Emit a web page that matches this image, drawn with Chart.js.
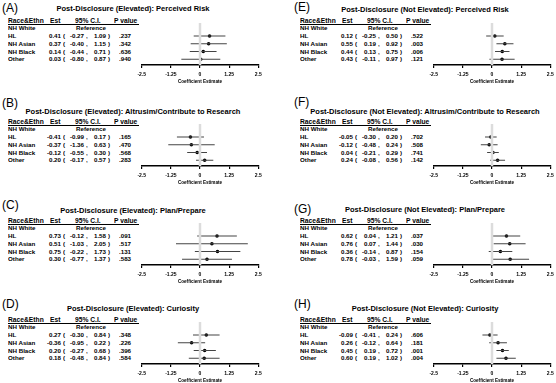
<!DOCTYPE html>
<html>
<head>
<meta charset="utf-8">
<script src="https://cdn.jsdelivr.net/npm/chart.js@4"></script>
<style>
  body { margin: 0; background: #fff; }
  #fig { position: relative; width: 556px; height: 383px; overflow: hidden; background: #fff;
         font-family: "Liberation Sans", Arial, sans-serif; color: #000; }
  .t { position: absolute; white-space: nowrap; font-weight: bold; line-height: 16px; height: 16px; }
  canvas { position: absolute; }
</style>
</head>
<body>
<div id="fig"></div>
<script>
const groups = ['NH White', 'HL', 'NH Asian', 'NH Black', 'Other'];
const tickValues = [-2.5, -1.25, 0, 1.25, 2.5];
const tickLabels = ['-2.5', '-1.25', '0', '1.25', '2.5'];
const letters = ['A', 'B', 'C', 'D', 'E', 'F', 'G', 'H'];
const titles = [
  'Post-Disclosure (Elevated): Perceived Risk',
  'Post-Disclosure (Elevated): Altrusim/Contribute to Research',
  'Post-Disclosure (Elevated): Plan/Prepare',
  'Post-Disclosure (Elevated): Curiosity',
  'Post-Disclosure (Not Elevated): Perceived Risk',
  'Post-Disclosure (Not Elevated): Altrusim/Contribute to Research',
  'Post-Disclosure (Not Elevated): Plan/Prepare',
  'Post-Disclosure (Not Elevated): Curiosity'
];

// estimates, CI bounds and p values (HL, NH Asian, NH Black, Other)
const estA = [0.41, 0.37, 0.14, 0.03];
const loA = [-0.27, -0.40, -0.44, -0.80];
const hiA = [1.09, 1.15, 0.71, 0.87];
const pA = ['.237', '.342', '.636', '.940'];

const estB = [-0.41, -0.37, -0.12, 0.20];
const loB = [-0.99, -1.36, -0.55, -0.17];
const hiB = [0.17, 0.63, 0.30, 0.57];
const pB = ['.165', '.470', '.568', '.283'];

const estC = [0.73, 0.51, 0.75, 0.30];
const loC = [-0.12, -1.03, -0.22, -0.77];
const hiC = [1.58, 2.05, 1.73, 1.37];
const pC = ['.091', '.517', '.131', '.583'];

const estD = [0.27, -0.36, 0.20, 0.18];
const loD = [-0.30, -0.95, -0.27, -0.48];
const hiD = [0.84, 0.22, 0.68, 0.84];
const pD = ['.348', '.226', '.396', '.584'];

const estE = [0.12, 0.55, 0.44, 0.43];
const loE = [-0.25, 0.19, 0.13, -0.11];
const hiE = [0.50, 0.92, 0.75, 0.97];
const pE = ['.522', '.003', '.006', '.121'];

const estF = [-0.05, -0.12, 0.04, 0.24];
const loF = [-0.30, -0.48, -0.21, -0.08];
const hiF = [0.20, 0.24, 0.29, 0.56];
const pF = ['.702', '.508', '.741', '.142'];

const estG = [0.62, 0.76, 0.36, 0.78];
const loG = [0.04, 0.07, -0.14, -0.03];
const hiG = [1.21, 1.44, 0.87, 1.59];
const pG = ['.037', '.030', '.154', '.059'];

const estH = [-0.09, 0.26, 0.45, 0.60];
const loH = [-0.41, -0.12, 0.19, 0.19];
const hiH = [0.24, 0.64, 0.72, 1.02];
const pH = ['.606', '.181', '.001', '.004'];

const ests = [estA, estB, estC, estD, estE, estF, estG, estH];
const los = [loA, loB, loC, loD, loE, loF, loG, loH];
const his = [hiA, hiB, hiC, hiD, hiE, hiF, hiG, hiH];
const ps = [pA, pB, pC, pD, pE, pF, pG, pH];

// layout
const fig = document.getElementById('fig');
const FONT = '"Liberation Sans", Arial, sans-serif';
const rowTops = [0, 101, 200, 299];
const letterDY = [7.5, 1.5, 5, 4.7, 7, 1, 9, 5];
const titleDY = [7.5, 10, 10, 9, 8.5, 10, 9, 9];
const COL_DX = 292;
const rowY = i => 28.3 + 7.75 * i;
const yMin = -0.68, yMax = 4.74;
const HEAD = 6.7, BODY = 6.2;

function addText(str, x, cy, size, align, weight) {
  const d = document.createElement('div');
  d.className = 't';
  d.textContent = str;
  d.style.fontSize = (size * 2) + 'px';
  d.style.left = x + 'px';
  d.style.top = (cy - 8) + 'px';
  d.style.transformOrigin = 'left center';
  let tr = 'scale(0.5)';
  if (align === 'right') tr = 'translateX(-50%) scale(0.5)';
  if (align === 'center') tr = 'translateX(-25%) scale(0.5)';
  d.style.transform = tr;
  if (weight) d.style.fontWeight = weight;
  fig.appendChild(d);
  return d;
}

function fmt(v) { return v.toFixed(2); }

function drawPanel(k) {
  const col = k < 4 ? 0 : 1;
  const top = rowTops[k % 4];
  const dx = col * COL_DX;
  const est = ests[k], lo = los[k], hi = his[k], p = ps[k];

  addText('(' + letters[k] + ')', dx + 2, top + letterDY[k], 12, 'left', 'normal');
  addText(titles[k], dx + 133, top + titleDY[k], 7.5, 'center');

  // table
  const hy = top + 20.7;
  addText('Race&Ethn', dx + 8, hy, HEAD, 'left');
  addText('Est', dx + 50, hy, HEAD, 'left');
  addText('95% C.I.', dx + 75, hy, HEAD, 'left');
  addText('P value', dx + 114.3, hy, HEAD, 'left');
  const ul = document.createElement('div');
  ul.style.cssText = 'position:absolute;height:0;border-top:1px solid #000;left:' + (dx + 8) +
    'px;width:131px;top:' + (top + 24) + 'px';
  fig.appendChild(ul);

  addText(groups[0], dx + 8, top + rowY(0), BODY, 'left');
  addText('Reference', dx + 90.5, top + rowY(0), BODY, 'center');
  for (let i = 0; i < est.length; i++) {
    const y = top + rowY(i + 1);
    addText(groups[i + 1], dx + 8, y, BODY, 'left');
    addText(fmt(est[i]), dx + 61.3, y, BODY, 'right');
    addText('(', dx + 63.3, y, BODY, 'left');
    addText(fmt(lo[i]), dx + 83.5, y, BODY, 'right');
    addText(',', dx + 85.5, y, BODY, 'left');
    addText(fmt(hi[i]), dx + 106, y, BODY, 'right');
    addText(')', dx + 108.3, y, BODY, 'left');
    addText(p[i], dx + 119, y, BODY, 'left');
  }

  // forest plot
  const cv = document.createElement('canvas');
  cv.width = 140; cv.height = 61;
  cv.style.width = '140px'; cv.style.height = '61px';
  cv.style.left = (130 + dx) + 'px';
  cv.style.top = (top + 23) + 'px';
  fig.appendChild(cv);

  const datasets = [{
    type: 'line', data: [{x: 0, y: yMin}, {x: 0, y: yMax}],
    borderColor: '#dcdcdc', borderWidth: 2.5, pointRadius: 0
  }];
  est.forEach((v, i) => datasets.push({
    type: 'line', data: [{x: lo[i], y: i + 1}, {x: hi[i], y: i + 1}],
    borderColor: '#444', borderWidth: 1.1, pointRadius: 0
  }));
  datasets.push({
    type: 'scatter', data: est.map((v, i) => ({x: v, y: i + 1})),
    pointRadius: 1.8, pointBackgroundColor: '#000', pointBorderWidth: 0
  });

  new Chart(cv, {
    type: 'scatter',
    data: { datasets },
    options: {
      responsive: false, animation: false, events: [],
      layout: { autoPadding: false, padding: { left: 11.7, right: 11.7, top: 0, bottom: 0 } },
      plugins: { legend: { display: false }, tooltip: { enabled: false } },
      scales: {
        x: {
          type: 'linear', min: -2.5, max: 2.5,
          afterBuildTicks: s => { s.ticks = tickValues.map(v => ({ value: v })); },
          afterFit: s => { s.height = 19; s.paddingLeft = 0; s.paddingRight = 0; },
          ticks: {
            autoSkip: false, maxRotation: 0, padding: 4, color: '#000',
            font: { size: 5, weight: 'bold', family: FONT },
            callback: (v, i) => tickLabels[i]
          },
          grid: { display: true, drawOnChartArea: false, drawTicks: true, tickLength: 3, color: '#000', lineWidth: 1.2 },
          border: { display: true, color: '#000', width: 1.4 },
          title: {
            display: true, text: 'Coefficient Estimate', color: '#000',
            font: { size: 4.6, weight: 'bold', family: FONT }, padding: { top: 1, bottom: 0 }
          }
        },
        y: { type: 'linear', display: false, reverse: true, min: yMin, max: yMax }
      }
    }
  });
}

for (let k = 0; k < 8; k++) drawPanel(k);
</script>
</body>
</html>
